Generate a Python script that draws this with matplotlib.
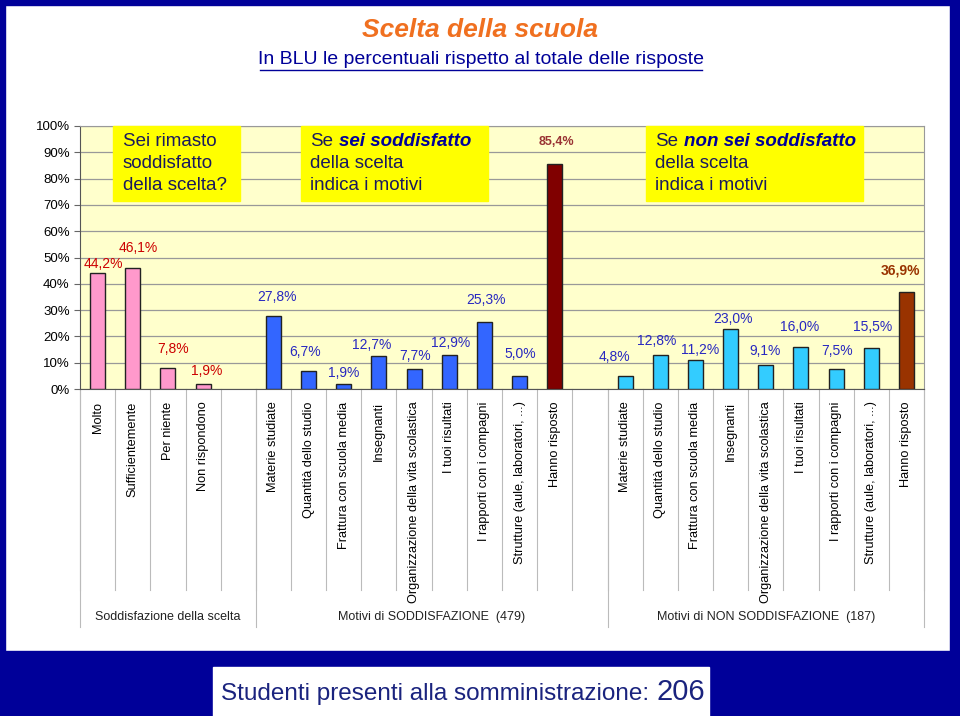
import numpy as np
import matplotlib
matplotlib.use("Agg")
import matplotlib.pyplot as plt
from matplotlib.patches import Rectangle

plt.rcParams["font.family"] = ["Liberation Sans", "DejaVu Sans"]

# --- data -------------------------------------------------------------
group_names = ["Soddisfazione della scelta",
               "Motivi di SODDISFAZIONE  (479)",
               "Motivi di NON SODDISFAZIONE  (187)"]

cat_sodd_scelta = ["Molto", "Sufficientemente", "Per niente", "Non rispondono"]
val_sodd_scelta = [44.2, 46.1, 7.8, 1.9]

cat_motivi = ["Materie studiate", "Quantità dello studio", "Frattura con scuola media",
              "Insegnanti", "Organizzazione della vita scolastica", "I tuoi risultati",
              "I rapporti con i compagni", "Strutture (aule, laboratori, ...)",
              "Hanno risposto"]
val_motivi_si = [27.8, 6.7, 1.9, 12.7, 7.7, 12.9, 25.3, 5.0, 85.4]
val_motivi_no = [4.8, 12.8, 11.2, 23.0, 9.1, 16.0, 7.5, 15.5, 36.9]

# label placement (style only): offsets in % and slot units
dy_1 = [3.3, 7.5, 7.4, 4.9]
dx_1 = [0.17, 0.17, 0.14, 0.09]
dy_2 = [7.2, 7.3, 4.2, 4.0, 4.8, 4.6, 8.5, 8.3, 8.5]
dx_2 = [0.11, -0.09, 0.0, -0.2, 0.03, 0.03, 0.04, 0.03, 0.06]
dy_3 = [7.4, 5.5, 3.6, 3.6, 5.3, 7.6, 6.9, 8.1, 8.0]
dx_3 = [-0.31, -0.11, 0.14, 0.06, -0.03, -0.03, 0.03, 0.03, -0.17]

W, H = 960, 716
NAVY = "#000099"

fig = plt.figure(figsize=(W / 100, H / 100), dpi=100)
fig.patch.set_facecolor("white")

# main plot area (pixel box: x 80..924, y 126..389)
x0, x1, yt, yb = 80, 924, 126, 389
ax = fig.add_axes([x0 / W, 1 - yb / H, (x1 - x0) / W, (yb - yt) / H], zorder=2)
ax.set_facecolor("#FFFFCC")

n_slots = len(cat_sodd_scelta) + 1 + len(cat_motivi) + 1 + len(cat_motivi)
pos1 = np.arange(len(cat_sodd_scelta))
pos2 = np.arange(len(cat_motivi)) + len(cat_sodd_scelta) + 1
pos3 = np.arange(len(cat_motivi)) + pos2[-1] + 2

bw = 0.43
ax.bar(pos1, val_sodd_scelta, bw, color="#FF99CC", edgecolor="#222222", linewidth=1, zorder=3)
c2 = ["#3366FF"] * (len(cat_motivi) - 1) + ["#800000"]
c3 = ["#33CCFF"] * (len(cat_motivi) - 1) + ["#993300"]
ax.bar(pos2, val_motivi_si, bw, color=c2, edgecolor="#222222", linewidth=1, zorder=3)
ax.bar(pos3, val_motivi_no, bw, color=c3, edgecolor="#222222", linewidth=1, zorder=3)

for p, v, dx, dy in zip(pos1, val_sodd_scelta, dx_1, dy_1):
    ax.text(p + dx, v + dy, f"{v:.1f}%".replace(".", ","), ha="center", va="center",
            fontsize=10, color="#CC0000", zorder=4)
for i, (p, v, dx, dy) in enumerate(zip(pos2, val_motivi_si, dx_2, dy_2)):
    last = i == len(pos2) - 1
    ax.text(p + dx, v + dy, f"{v:.1f}%".replace(".", ","), ha="center", va="center",
            fontsize=9 if last else 10, color="#993333" if last else "#2828C0",
            fontweight="bold" if last else "normal", zorder=4)
for i, (p, v, dx, dy) in enumerate(zip(pos3, val_motivi_no, dx_3, dy_3)):
    last = i == len(pos3) - 1
    ax.text(p + dx, v + dy, f"{v:.1f}%".replace(".", ","), ha="center", va="center",
            fontsize=10, color="#993300" if last else "#2828C0",
            fontweight="bold" if last else "normal", zorder=4)

ax.set_xlim(-0.5, n_slots - 0.5)
ax.set_ylim(0, 100)
ax.set_yticks(range(0, 101, 10))
ax.set_yticklabels([f"{t}%" for t in range(0, 101, 10)], fontsize=9.5)
ax.yaxis.grid(True, color="#999999", linewidth=0.9)
ax.set_axisbelow(True)

ticks = list(pos1) + list(pos2) + list(pos3)
labels = cat_sodd_scelta + cat_motivi + cat_motivi
ax.set_xticks(ticks)
ax.set_xticklabels(labels, rotation=90, fontsize=9.2, va="top", ha="center")
ax.tick_params(axis="x", length=0, pad=9)
ax.tick_params(axis="y", length=4, color="#666666")
for s in ["top", "right"]:
    ax.spines[s].set_color("#999999")
ax.spines["left"].set_color("#555555")
ax.spines["bottom"].set_color("#555555")

# slot separators and group separators below the axis
trans = ax.get_xaxis_transform()
group_edges = [-0.5, pos1[-1] + 1.5, pos2[-1] + 1.5, n_slots - 0.5]
for b in np.arange(n_slots + 1) - 0.5:
    ax.plot([b, b], [0, -0.765], transform=trans, color="#BBBBBB", lw=0.8, clip_on=False)
for b in group_edges:
    ax.plot([b, b], [0, -0.905], transform=trans, color="#BBBBBB", lw=0.8, clip_on=False)
for name, a, b in zip(group_names, group_edges[:-1], group_edges[1:]):
    ax.text((a + b) / 2, -0.867, name, transform=trans, ha="center", va="center",
            fontsize=9, color="#222222")

# overlay in pixel coordinates for frame, boxes and titles
ov = fig.add_axes([0, 0, 1, 1], zorder=5)
ov.set_xlim(0, W)
ov.set_ylim(H, 0)
ov.axis("off")
ov.patch.set_alpha(0)

ov.add_patch(Rectangle((0, 0), W, 5, color=NAVY))
ov.add_patch(Rectangle((0, 0), 5, H, color=NAVY))
ov.add_patch(Rectangle((950, 0), 10, H, color=NAVY))
ov.add_patch(Rectangle((0, 651), W, H - 651, color=NAVY))
ov.add_patch(Rectangle((213, 667), 496, 49, color="white"))

ov.text(480, 30, "Scelta della scuola", ha="center", va="center", fontsize=19,
        fontweight="bold", fontstyle="italic", color="#F07020")
ov.text(481, 60, "In BLU le percentuali rispetto al totale delle risposte", ha="center",
        va="center", fontsize=14, color=NAVY)
ov.plot([260, 702], [70, 70], color=NAVY, lw=1)

ov.text(221, 700, "Studenti presenti alla somministrazione:", ha="left", va="baseline",
        fontsize=17.5, color="#1A237E")
ov.text(657, 700, "206", ha="left", va="baseline", fontsize=21, color="#1A237E")

YEL = "#FFFF00"
TXT = "#1A1A5E"
box_fs = 13.5
ov.add_patch(Rectangle((113, 126), 127, 75, color=YEL))
ov.text(123, 142, "Sei rimasto", fontsize=box_fs, color=TXT, va="center")
ov.text(123, 164, "soddisfatto", fontsize=box_fs, color=TXT, va="center")
ov.text(123, 186, "della scelta?", fontsize=box_fs, color=TXT, va="center")

ov.add_patch(Rectangle((301, 126), 187, 75, color=YEL))
ov.text(310, 142, "Se", fontsize=box_fs, color=TXT, va="center")
ov.text(339, 142, "sei soddisfatto", fontsize=box_fs, color=NAVY, va="center",
        fontweight="bold", fontstyle="italic")
ov.text(310, 164, "della scelta", fontsize=box_fs, color=TXT, va="center")
ov.text(310, 186, "indica i motivi", fontsize=box_fs, color=TXT, va="center")

ov.add_patch(Rectangle((646, 126), 217, 75, color=YEL))
ov.text(655, 142, "Se", fontsize=box_fs, color=TXT, va="center")
ov.text(684, 142, "non sei soddisfatto", fontsize=box_fs, color=NAVY, va="center",
        fontweight="bold", fontstyle="italic")
ov.text(655, 164, "della scelta", fontsize=box_fs, color=TXT, va="center")
ov.text(655, 186, "indica i motivi", fontsize=box_fs, color=TXT, va="center")

fig.savefig("out.png", dpi=100)
